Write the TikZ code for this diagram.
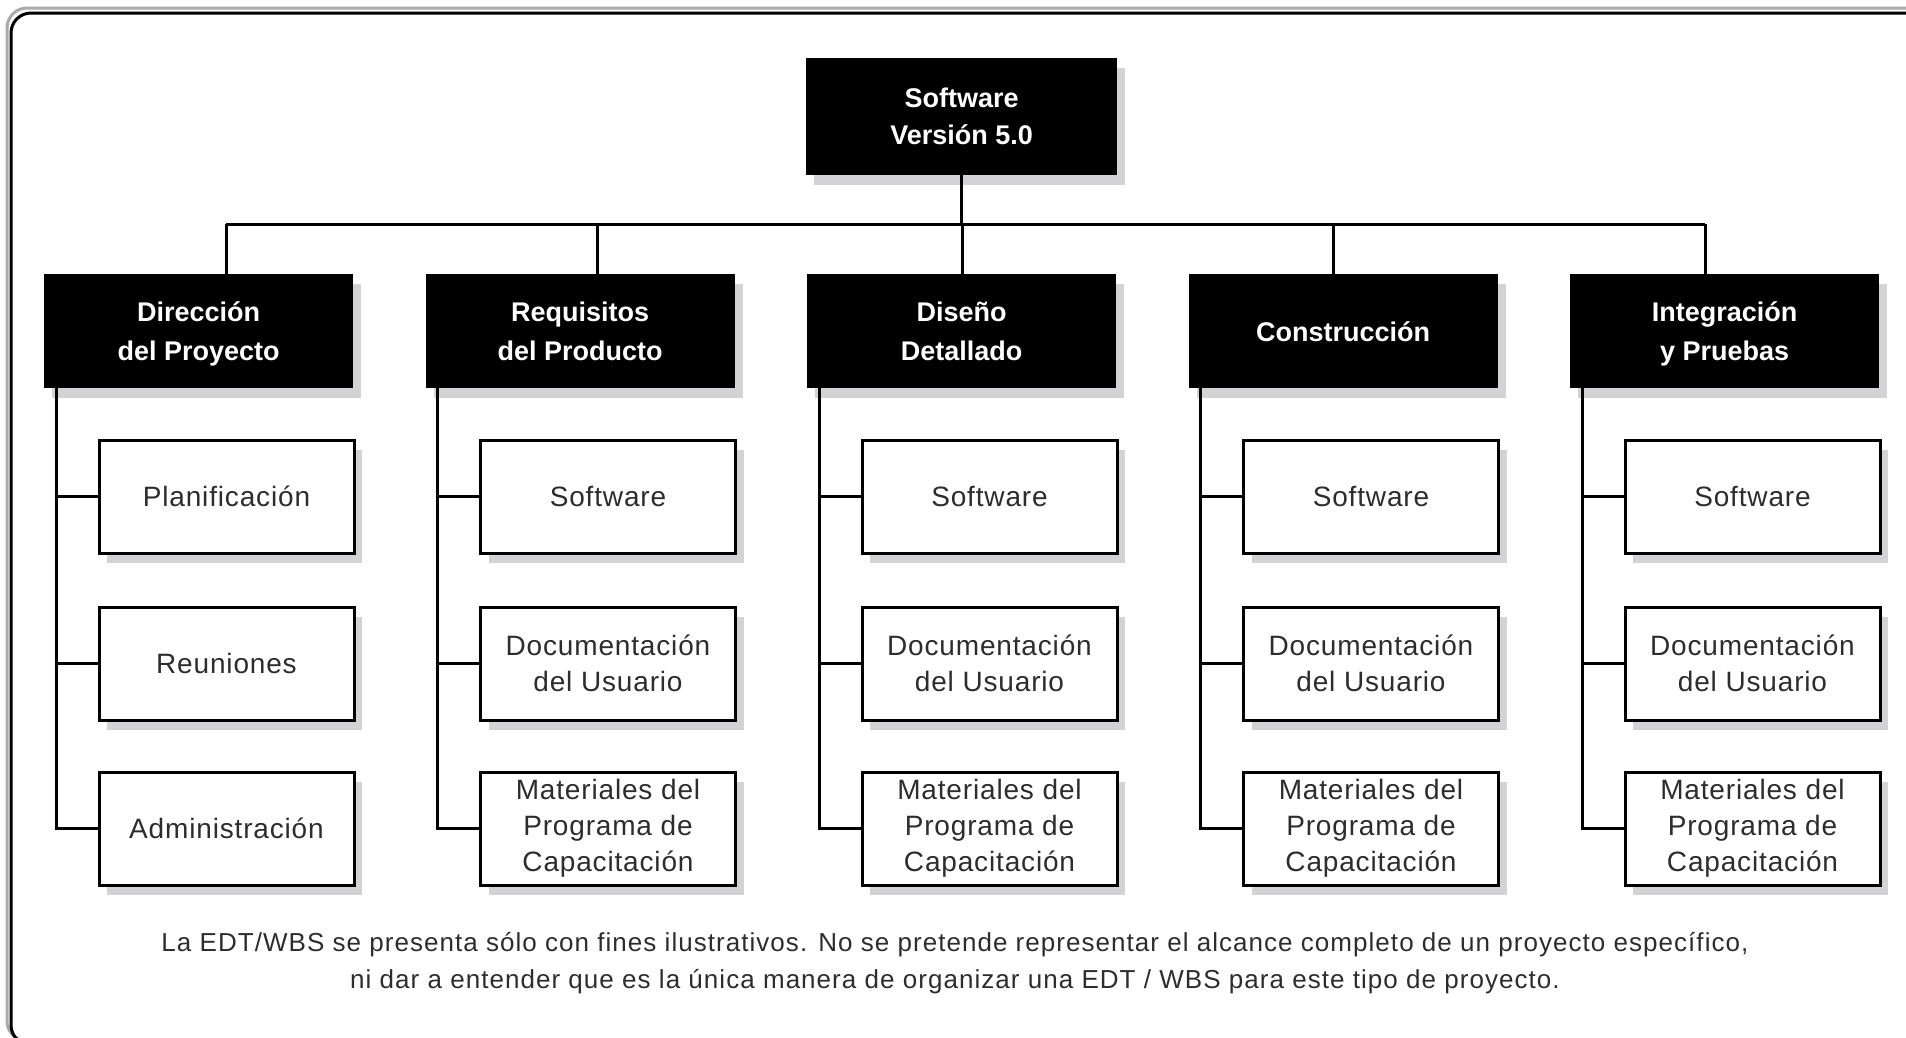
\documentclass[tikz,border=0pt]{standalone}
\usepackage{fontspec}
\setmainfont{Liberation Sans}
\usetikzlibrary{shadows}

\definecolor{shadowgray}{RGB}{211,211,213}
\definecolor{framegray}{RGB}{170,170,170}
\definecolor{leaftext}{RGB}{45,45,45}

\begin{document}
\begin{tikzpicture}[x=1pt, y=-1pt,
  shade/.style={drop shadow={shadow xshift=8pt, shadow yshift=-10pt, opacity=1, fill=shadowgray}},
  wbsroot/.style={shade, fill=black, text=white, font=\fontsize{27}{37}\selectfont\bfseries,
    align=center, inner sep=0pt, anchor=north west, minimum width=311pt, minimum height=117pt},
  wbsmain/.style={shade, fill=black, text=white, font=\fontsize{27}{39}\selectfont\bfseries,
    align=center, inner sep=0pt, anchor=north west, minimum width=309pt, minimum height=114pt,
    text depth=-5pt},
  wbsleaf/.style={shade, draw, line width=3pt, fill=white, text=leaftext,
    font=\fontsize{28}{36}\selectfont\addfontfeature{LetterSpace=3},
    align=center, inner sep=0pt, anchor=north west, minimum width=255pt, minimum height=113pt},
  link/.style={line width=3pt}]

\useasboundingbox (0,0) rectangle (1906,1037);
\clip (0,0) rectangle (1906,1037);

% frame
\draw[framegray, line width=3pt, rounded corners=20pt] (7,8) rectangle (1940,1041);
\draw[line width=3pt, rounded corners=20pt] (11,13) rectangle (1944,1045);

% top of the WBS
\node[wbsroot] (root) at (806,58) {Software\\Versión 5.0};

% second level
\node[wbsmain] (c1) at (44,274)   {Dirección\\del Proyecto};
\node[wbsmain] (c2) at (425.5,274) {Requisitos\\del Producto};
\node[wbsmain] (c3) at (807,274)  {Diseño\\Detallado};
\node[wbsmain] (c4) at (1188.5,274) {Construcción};
\node[wbsmain] (c5) at (1570,274) {Integración\\y Pruebas};

% work packages
\node[wbsleaf] (c1a) at (97.5,438.5) {Planificación};
\node[wbsleaf] (c1b) at (97.5,605.5) {Reuniones};
\node[wbsleaf] (c1c) at (97.5,770.5) {Administración};

\node[wbsleaf] (c2a) at (479,438.5) {Software};
\node[wbsleaf] (c2b) at (479,605.5) {Documentación\\del Usuario};
\node[wbsleaf] (c2c) at (479,770.5) {Materiales del\\Programa de\\Capacitación};

\node[wbsleaf] (c3a) at (860.5,438.5) {Software};
\node[wbsleaf] (c3b) at (860.5,605.5) {Documentación\\del Usuario};
\node[wbsleaf] (c3c) at (860.5,770.5) {Materiales del\\Programa de\\Capacitación};

\node[wbsleaf] (c4a) at (1242,438.5) {Software};
\node[wbsleaf] (c4b) at (1242,605.5) {Documentación\\del Usuario};
\node[wbsleaf] (c4c) at (1242,770.5) {Materiales del\\Programa de\\Capacitación};

\node[wbsleaf] (c5a) at (1623.5,438.5) {Software};
\node[wbsleaf] (c5b) at (1623.5,605.5) {Documentación\\del Usuario};
\node[wbsleaf] (c5c) at (1623.5,770.5) {Materiales del\\Programa de\\Capacitación};

% bus under the root
\coordinate (t1) at (226,224);
\coordinate (t2) at (597,224);
\coordinate (t3) at (962,224);
\coordinate (t4) at (1333,224);
\coordinate (t5) at (1705,224);

\draw[link] (root.south) -- (root.south |- t3);
\draw[link] (t1) -- (t5);
\draw[link] (t1) -- (t1 |- c1.north);
\draw[link] (t2) -- (t2 |- c2.north);
\draw[link] (t3) -- (t3 |- c3.north);
\draw[link] (t4) -- (t4 |- c4.north);
\draw[link] (t5) -- (t5 |- c5.north);

% spines to the work packages
\draw[link] ([xshift=12pt]c1.south west) |- (c1c.west);
\draw[link] ([xshift=12pt]c1.south west) |- (c1a.west);
\draw[link] ([xshift=12pt]c1.south west) |- (c1b.west);
\draw[link] ([xshift=12pt]c2.south west) |- (c2c.west);
\draw[link] ([xshift=12pt]c2.south west) |- (c2a.west);
\draw[link] ([xshift=12pt]c2.south west) |- (c2b.west);
\draw[link] ([xshift=12pt]c3.south west) |- (c3c.west);
\draw[link] ([xshift=12pt]c3.south west) |- (c3a.west);
\draw[link] ([xshift=12pt]c3.south west) |- (c3b.west);
\draw[link] ([xshift=12pt]c4.south west) |- (c4c.west);
\draw[link] ([xshift=12pt]c4.south west) |- (c4a.west);
\draw[link] ([xshift=12pt]c4.south west) |- (c4b.west);
\draw[link] ([xshift=12pt]c5.south west) |- (c5c.west);
\draw[link] ([xshift=12pt]c5.south west) |- (c5a.west);
\draw[link] ([xshift=12pt]c5.south west) |- (c5b.west);

% note
\node[text=leaftext, font=\fontsize{26}{37}\selectfont\addfontfeature{LetterSpace=4}, align=center] (nota) at (955,963)
  {La EDT/WBS se presenta sólo con fines ilustrativos. No se pretende representar el alcance completo de un proyecto específico,\\
   ni dar a entender que es la única manera de organizar una EDT / WBS para este tipo de proyecto.};

\end{tikzpicture}
\end{document}
